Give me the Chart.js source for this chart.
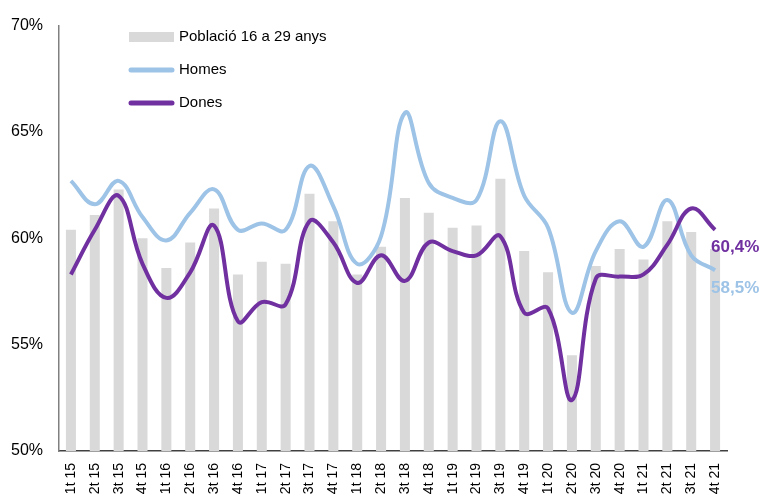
<!DOCTYPE html>
<html>
<head>
<meta charset="utf-8">
<script src="https://cdn.jsdelivr.net/npm/chart.js@4/dist/chart.umd.min.js"></script>
<style>
  html, body { margin: 0; padding: 0; background: #fff; overflow: hidden; }
  #wrap { width: 761px; height: 497px; }
</style>
</head>
<body>
<div id="wrap"><canvas id="chart" width="761" height="497"></canvas></div>
<script>
// trimestres
const labels = [
  '1t 15', '2t 15', '3t 15', '4t 15',
  '1t 16', '2t 16', '3t 16', '4t 16',
  '1t 17', '2t 17', '3t 17', '4t 17',
  '1t 18', '2t 18', '3t 18', '4t 18',
  '1t 19', '2t 19', '3t 19', '4t 19',
  '1t 20', '2t 20', '3t 20', '4t 20',
  '1t 21', '2t 21', '3t 21', '4t 21',
];

const poblacio = [
  60.4, 61.1, 62.3, 60.0, 58.6, 59.8, 61.4, 58.3,
  58.9, 58.8, 62.1, 60.8, 58.3, 59.6, 61.9, 61.2,
  60.5, 60.6, 62.8, 59.4, 58.4, 54.5, 58.7, 59.5,
  59.0, 60.8, 60.3, 59.5,
];

const homes = [
  62.7, 61.6, 62.7, 61.0, 59.9, 61.2, 62.3, 60.4,
  60.7, 60.4, 63.4, 61.5, 58.8, 60.1, 65.9, 62.6,
  61.9, 61.8, 65.5, 62.0, 60.5, 56.5, 59.4, 60.8,
  59.6, 61.8, 59.2, 58.5,
];

const dones = [
  58.3, 60.4, 62.0, 58.8, 57.2, 58.4, 60.6, 56.1,
  57.0, 56.9, 60.8, 59.8, 57.9, 59.2, 58.0, 59.8,
  59.4, 59.2, 60.1, 56.5, 56.7, 52.4, 58.1, 58.2,
  58.3, 59.7, 61.4, 60.4,
];

const yTicks = [50, 55, 60, 65, 70];

const FONT = "'Liberation Sans', Arial, sans-serif";

const fmt = v => v.toFixed(1).replace('.', ',') + '%';

// etiqueta amb el darrer valor de cada línia
const lastValuePlugin = {
  id: 'lastValue',
  afterDatasetsDraw(chart) {
    const ctx = chart.ctx;
    chart.data.datasets.forEach((ds, i) => {
      if (ds.type !== 'line') return;
      const meta = chart.getDatasetMeta(i);
      const pt = meta.data[meta.data.length - 1];
      const val = ds.data[ds.data.length - 1];
      ctx.save();
      ctx.font = 'bold 17px ' + FONT;
      ctx.fillStyle = ds.borderColor;
      ctx.textAlign = 'left';
      ctx.textBaseline = 'middle';
      ctx.fillText(fmt(val), pt.x - 4, pt.y + 18);
      ctx.restore();
    });
  },
};

// llegenda dins l'àrea del gràfic
const innerLegendPlugin = {
  id: 'innerLegend',
  afterDraw(chart) {
    const ctx = chart.ctx;
    const x0 = 129, y0 = 37, gap = 33, sw = 45;
    ctx.save();
    ctx.font = '15px ' + FONT;
    ctx.textBaseline = 'middle';
    ctx.textAlign = 'left';
    chart.data.datasets.forEach((ds, k) => {
      const y = y0 + k * gap;
      if (ds.type === 'bar') {
        ctx.fillStyle = ds.backgroundColor;
        ctx.fillRect(x0, y - 5, sw, 10);
      } else {
        ctx.strokeStyle = ds.borderColor;
        ctx.lineWidth = 5;
        ctx.lineCap = 'round';
        ctx.beginPath();
        ctx.moveTo(x0 + 2, y);
        ctx.lineTo(x0 + sw - 2, y);
        ctx.stroke();
      }
      ctx.fillStyle = '#000';
      ctx.fillText(ds.label, x0 + sw + 5, y);
    });
    ctx.restore();
  },
};

new Chart(document.getElementById('chart'), {
  data: {
    labels,
    datasets: [
      {
        type: 'bar',
        label: 'Població 16 a 29 anys',
        data: poblacio,
        backgroundColor: '#D9D9D9',
        barPercentage: 0.5,
        categoryPercentage: 0.84,
        order: 3,
      },
      {
        type: 'line',
        label: 'Homes',
        data: homes,
        borderColor: '#9DC3E6',
        borderWidth: 4,
        pointRadius: 0,
        tension: 0.4,
        fill: false,
        order: 2,
      },
      {
        type: 'line',
        label: 'Dones',
        data: dones,
        borderColor: '#7030A0',
        borderWidth: 4,
        pointRadius: 0,
        tension: 0.4,
        fill: false,
        order: 1,
      },
    ],
  },
  options: {
    responsive: false,
    animation: false,
    layout: { padding: { top: 20, right: 34, left: 0, bottom: 0 } },
    scales: {
      x: {
        grid: { display: false, drawTicks: false },
        border: { display: true, color: '#404040', width: 1.5 },
        ticks: {
          autoSkip: false,
          minRotation: 90,
          maxRotation: 90,
          padding: 12,
          color: '#000',
          font: { family: FONT, size: 14 },
        },
        afterFit(scale) { scale.height = 46; },
      },
      y: {
        min: 50,
        max: 70,
        grid: { display: false, drawTicks: false },
        border: { display: true, color: '#808080', width: 1.5 },
        afterBuildTicks(scale) { scale.ticks = yTicks.map(v => ({ value: v })); },
        ticks: {
          padding: 16,
          color: '#000',
          font: { family: FONT, size: 16 },
          callback: v => v + '%',
        },
        afterFit(scale) { scale.width = 59; },
      },
    },
    plugins: {
      legend: { display: false },
      tooltip: { enabled: false },
    },
  },
  plugins: [lastValuePlugin, innerLegendPlugin],
});
</script>
</body>
</html>
